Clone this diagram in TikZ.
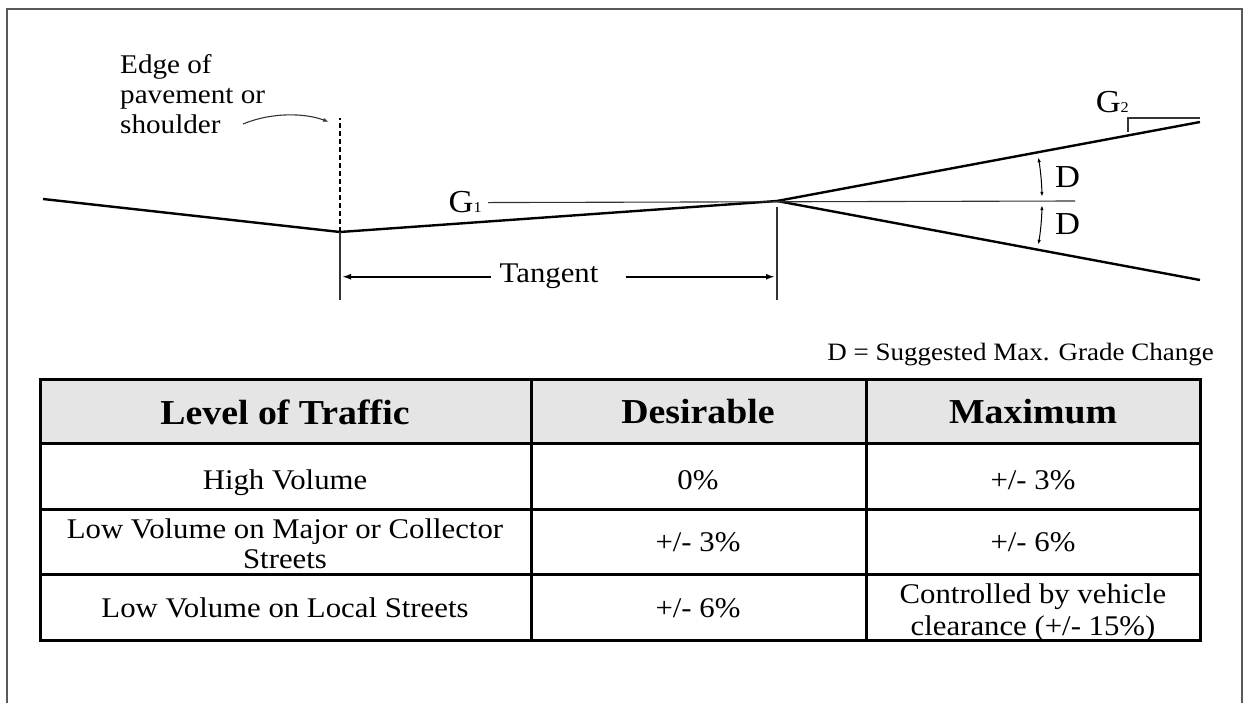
\documentclass[tikz,border=0pt]{standalone}
\usepackage{fontspec}
\setmainfont{Liberation Serif}[FakeStretch=1.08]
\usetikzlibrary{arrows.meta}
\tikzset{
  frame/.style={draw=black!65,line width=1.4pt},
  road/.style={line width=2.4pt,line join=miter},
  guide/.style={line width=1.1pt,black!80},
  dim/.style={line width=1.8pt,-{Latex[length=9pt,width=6pt]}},
  darc/.style={line width=1pt,{Latex[length=5pt,width=3.5pt]}-{Latex[length=5pt,width=3.5pt]}},
  lbl/.style={inner sep=0pt,font=\fontsize{27}{30}\selectfont},
  gtxt/.style={inner sep=0pt,font=\fontsize{32}{32}\selectfont},
  tab/.style={line width=3pt},
  cell/.style={inner sep=0pt,align=center,font=\fontsize{28.5}{30}\selectfont},
  head/.style={inner sep=0pt,font=\fontsize{35}{36}\selectfont\bfseries},
}
\begin{document}
\begin{tikzpicture}[x=1pt,y=-1pt]
\useasboundingbox (0,0) rectangle (1250,703);
\draw[frame] (7,703) -- (7,9) -- (1242,9) -- (1242,703);
% profile
\coordinate (far) at (43,199);
\coordinate (toe) at (340,232);
\coordinate (crest) at (777,201);
\coordinate (up) at (1200,122);
\coordinate (down) at (1200,280);
\coordinate (edgetop) at (340,118);
\draw[road] (far) -- (toe) -- (crest) -- (up);
\draw[road] (crest) -- (down);
\draw[line width=1.8pt,dash pattern=on 5pt off 3pt] (toe) -- (edgetop);
\node[lbl,align=left,anchor=north west] (edgelbl) at (120,54) {Edge of\\pavement or\\shoulder};
\coordinate (edgetail) at (243,124);
\draw[guide,-{Latex[length=6pt,width=4pt]}] (edgetail) .. controls (272,112) and (305,113) .. ([shift={(-11,4)}]edgetop);
% grades
\node[gtxt,anchor=base east] (gone) at (482,213) {G{\fontsize{15}{15}\selectfont 1}};
\draw[guide] ([xshift=6pt]gone.east) -- ([xshift=298pt]crest);
\node[gtxt,anchor=base east] (gtwo) at (1129,113) {G{\fontsize{15}{15}\selectfont 2}};
\coordinate (gbrk) at (1128,118);
\draw[guide] ([yshift=-14pt]gbrk) -- (gbrk) -- (up |- gbrk);
\draw[darc] ([shift={(-9.5:265)}]crest) arc[start angle=-9.5,end angle=-0.9,radius=265];
\draw[darc] ([shift={(0.9:265)}]crest) arc[start angle=0.9,end angle=9.5,radius=265];
\node[gtxt,anchor=base west] (dup) at (1055,188) {D};
\node[gtxt,anchor=base west] (ddown) at (1055,235) {D};
% tangent
\coordinate (toefoot) at (340,300);
\coordinate (crestfoot) at (777,300);
\draw[guide] (toe) -- (toefoot);
\draw[guide] ([yshift=-6pt]crest) -- (crestfoot);
\node[inner sep=0pt,font=\fontsize{28.5}{30}\selectfont,anchor=base] (tang) at (549,283) {Tangent};
\draw[dim,shorten >=2pt] ([xshift=-8pt]tang.west) -- (toefoot |- tang.west);
\draw[dim,shorten >=2pt] ([xshift=27pt]tang.east) -- (crestfoot |- tang.east);
\node[inner sep=0pt,font=\fontsize{25}{26}\selectfont,anchor=base east] (dnote) at (1214,360) {D = Suggested Max. Grade Change};
% table
\fill[black!10] (40,379) rectangle (1200,443);
\foreach \y in {443,509,574} \draw[tab] (40,\y) -- (1200,\y);
\foreach \x in {531,866} \draw[tab] (\x,379) -- (\x,640);
\draw[tab] (40,379) rectangle (1200,640);
\node[head] (lvl) at (285,412) {Level of Traffic};
\node[head] (des) at (698,412) {Desirable};
\node[head] (mx) at (1033,412) {Maximum};
\node[cell,anchor=base] (ra) at (285,489) {High Volume};
\node[cell,anchor=base] (rb) at (698,489) {0\%};
\node[cell,anchor=base] (rc) at (1033,489) {+/- 3\%};
\node[cell] (sa) at (285,544) {Low Volume on Major or Collector\\Streets};
\node[cell,anchor=base] (sb) at (698,551) {+/- 3\%};
\node[cell,anchor=base] (sc) at (1033,551) {+/- 6\%};
\node[cell,anchor=base] (ta) at (285,617) {Low Volume on Local Streets};
\node[cell,anchor=base] (tb) at (698,617) {+/- 6\%};
\node[cell,font=\fontsize{28.5}{32}\selectfont] (tc) at (1033,613) {Controlled by vehicle\\clearance (+/- 15\%)};
\end{tikzpicture}
\end{document}
